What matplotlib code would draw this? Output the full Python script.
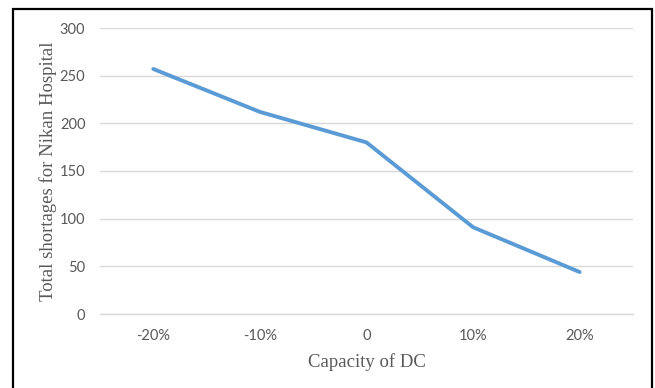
import matplotlib
matplotlib.use('Agg')
import matplotlib.pyplot as plt
from matplotlib.patches import Rectangle

capacity = ['-20%', '-10%', '0', '10%', '20%']
shortages = [257, 212, 180, 91, 44]
yticks = [0, 50, 100, 150, 200, 250, 300]

fig = plt.figure(figsize=(6.55, 3.88), dpi=100)
ax = fig.add_axes([100 / 655, 1 - 314 / 388, 533 / 655, 286 / 388])

x = range(len(capacity))
ax.plot(x, shortages, color='#5B9BD5', lw=2.8, solid_capstyle='round',
        solid_joinstyle='round', zorder=3)

ax.set_xlim(-0.5, len(capacity) - 0.5)
ax.set_ylim(0, 300)
ax.set_yticks(yticks)
ax.set_xticks(list(x))
ax.set_xticklabels(capacity)
ax.grid(axis='y', color='#D9D9D9', lw=1)
ax.set_axisbelow(True)
for s in ['top', 'right', 'left']:
    ax.spines[s].set_visible(False)
ax.spines['bottom'].set_color('#D9D9D9')
ax.spines['bottom'].set_linewidth(1)
ax.tick_params(length=0, labelsize=10.5, labelcolor='#595959')
ax.tick_params(axis='y', pad=10.5)
ax.tick_params(axis='x', pad=11)
for lbl in ax.get_xticklabels() + ax.get_yticklabels():
    lbl.set_family('Lato')

ax.set_xlabel('Capacity of DC', family='Liberation Serif', fontsize=13.5,
              color='#595959', labelpad=7)
ax.set_ylabel('Total shortages for Nikan Hospital', family='Liberation Serif',
              fontsize=13.5, color='#595959', labelpad=2)

# outer frame
fig.patches.append(Rectangle((12.5 / 655, -0.01), 639.5 / 655, 1 - 8.5 / 388 + 0.01,
                             transform=fig.transFigure, fill=False,
                             edgecolor='#000000', lw=1.6))

fig.savefig('out.png', dpi=100, facecolor='white')
